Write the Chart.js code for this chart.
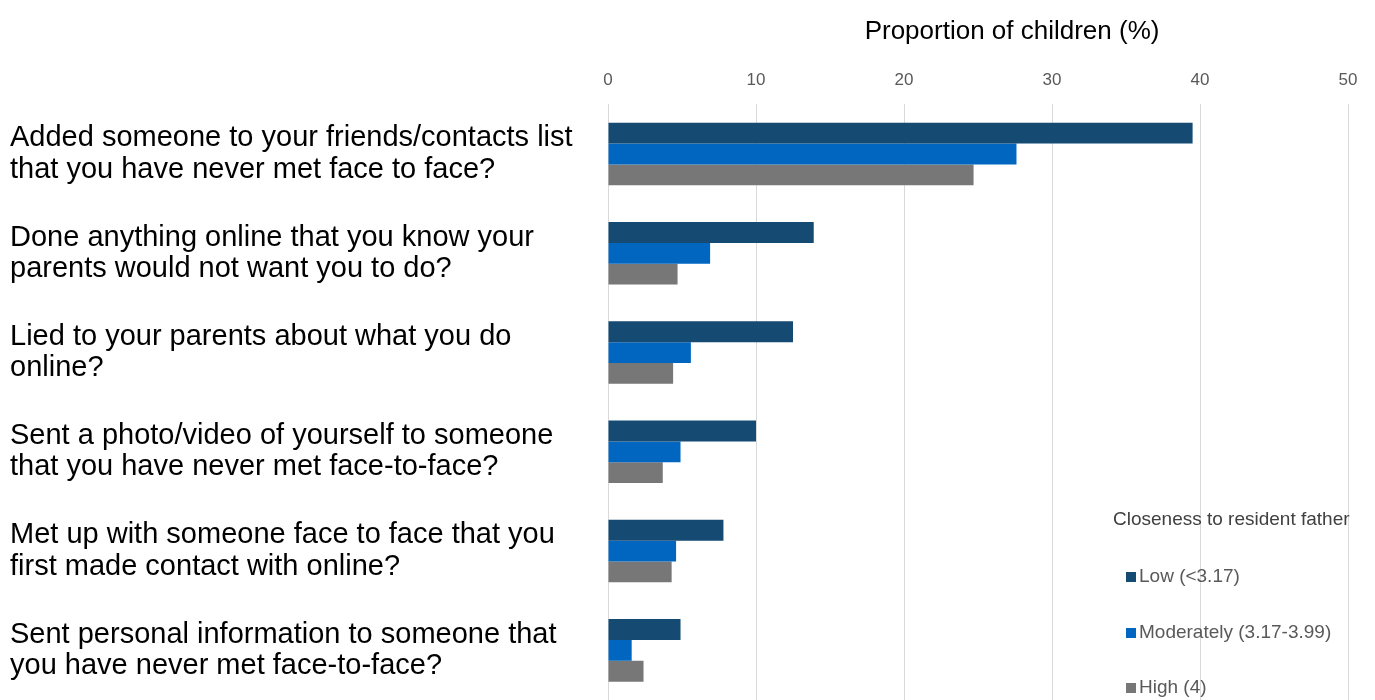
<!DOCTYPE html>
<html>
<head>
<meta charset="utf-8">
<script src="https://cdn.jsdelivr.net/npm/chart.js@4"></script>
<style>
  html, body { margin: 0; padding: 0; background: #fff; }
  #wrap { position: relative; width: 1375px; height: 700px; }
  #legend {
    position: absolute; left: 1113px; top: 508px;
    font-family: "Liberation Sans Narrow", "Liberation Sans", Arial, sans-serif;
    font-size: 19px; color: #404040;
  }
  #legend .title { margin-bottom: 35px; }
  #legend .item { height: 55.5px; padding-left: 13px; color: #595959; }
  #legend .box { display: inline-block; width: 10px; height: 10px; margin-right: 3px; }
</style>
</head>
<body>
<div id="wrap">
  <canvas id="chart" width="1375" height="700"></canvas>
  <div id="legend"></div>
</div>
<script>
// categories, one array of lines per question
const categories = [
  ["Added someone to your friends/contacts list", "that you have never met face to face?"],
  ["Done anything online that you know your", "parents would not want you to do?"],
  ["Lied to your parents about what you do", "online?"],
  ["Sent a photo/video of yourself to someone", "that you have never met face-to-face?"],
  ["Met up with someone face to face that you", "first made contact with online?"],
  ["Sent personal information to someone that", "you have never met face-to-face?"]
];

const seriesNames = ["Low (<3.17)", "Moderately (3.17-3.99)", "High (4)"];
const seriesColors = ["#154a72", "#0066c0", "#777777"];

// proportion of children (%)
const lowValues = [39.5, 13.9, 12.5, 10.0, 7.8, 4.9];
const moderateValues = [27.6, 6.9, 5.6, 4.9, 4.6, 1.6];
const highValues = [24.7, 4.7, 4.4, 3.7, 4.3, 2.4];

const xTicks = [0, 10, 20, 30, 40, 50];
const axisTitle = "Proportion of children (%)";
const legendTitle = "Closeness to resident father";

const narrow = "'Liberation Sans Narrow', 'Liberation Sans', Arial, sans-serif";

// axis title sits above the tick labels, a bit right of the plot centre
const axisTitlePlugin = {
  id: 'axisTitle',
  afterDraw(chart) {
    const ctx = chart.ctx;
    const area = chart.chartArea;
    ctx.save();
    ctx.font = "26px 'Liberation Sans', Arial, sans-serif";
    ctx.fillStyle = "#000";
    ctx.textAlign = "center";
    ctx.textBaseline = "middle";
    ctx.fillText(axisTitle, area.left + (area.right - area.left) * 0.546, 32);
    ctx.restore();
  }
};

const ctx = document.getElementById('chart').getContext('2d');
const chart = new Chart(ctx, {
  type: 'bar',
  data: {
    labels: categories,
    datasets: [lowValues, moderateValues, highValues].map((vals, i) => ({
      label: seriesNames[i],
      data: vals,
      backgroundColor: seriesColors[i],
      barPercentage: 1.0,
      categoryPercentage: 0.63
    }))
  },
  options: {
    indexAxis: 'y',
    responsive: false,
    animation: false,
    layout: { padding: { top: 56, left: 10, right: 27, bottom: 0 } },
    plugins: {
      legend: { display: false },
      tooltip: { enabled: false }
    },
    scales: {
      x: {
        position: 'top',
        min: xTicks[0],
        max: xTicks[xTicks.length - 1],
        afterBuildTicks: scale => { scale.ticks = xTicks.map(v => ({ value: v })); },
        grid: { color: '#d9d9d9', drawTicks: false },
        border: { display: false },
        ticks: {
          padding: 14,
          color: '#595959',
          font: { family: narrow, size: 17 }
        }
      },
      y: {
        // fixed label column, and no extra room for the two-line labels
        afterFit: scale => {
          scale.width = 598;
          scale.paddingTop = 0;
          scale.paddingBottom = 0;
        },
        grid: { display: false },
        border: { display: false },
        ticks: {
          crossAlign: 'far',
          color: '#000',
          font: { family: "'Liberation Sans', Arial, sans-serif", size: 29, lineHeight: 1.08 }
        }
      }
    }
  },
  plugins: [axisTitlePlugin]
});

// legend built from the datasets
const legendDiv = document.getElementById('legend');
let html = `<div class="title">${legendTitle}</div>`;
chart.data.datasets.forEach(ds => {
  const text = ds.label.replace(/</g, '&lt;');
  html += `<div class="item"><span class="box" style="background:${ds.backgroundColor}"></span>${text}</div>`;
});
legendDiv.innerHTML = html;
</script>
</body>
</html>
